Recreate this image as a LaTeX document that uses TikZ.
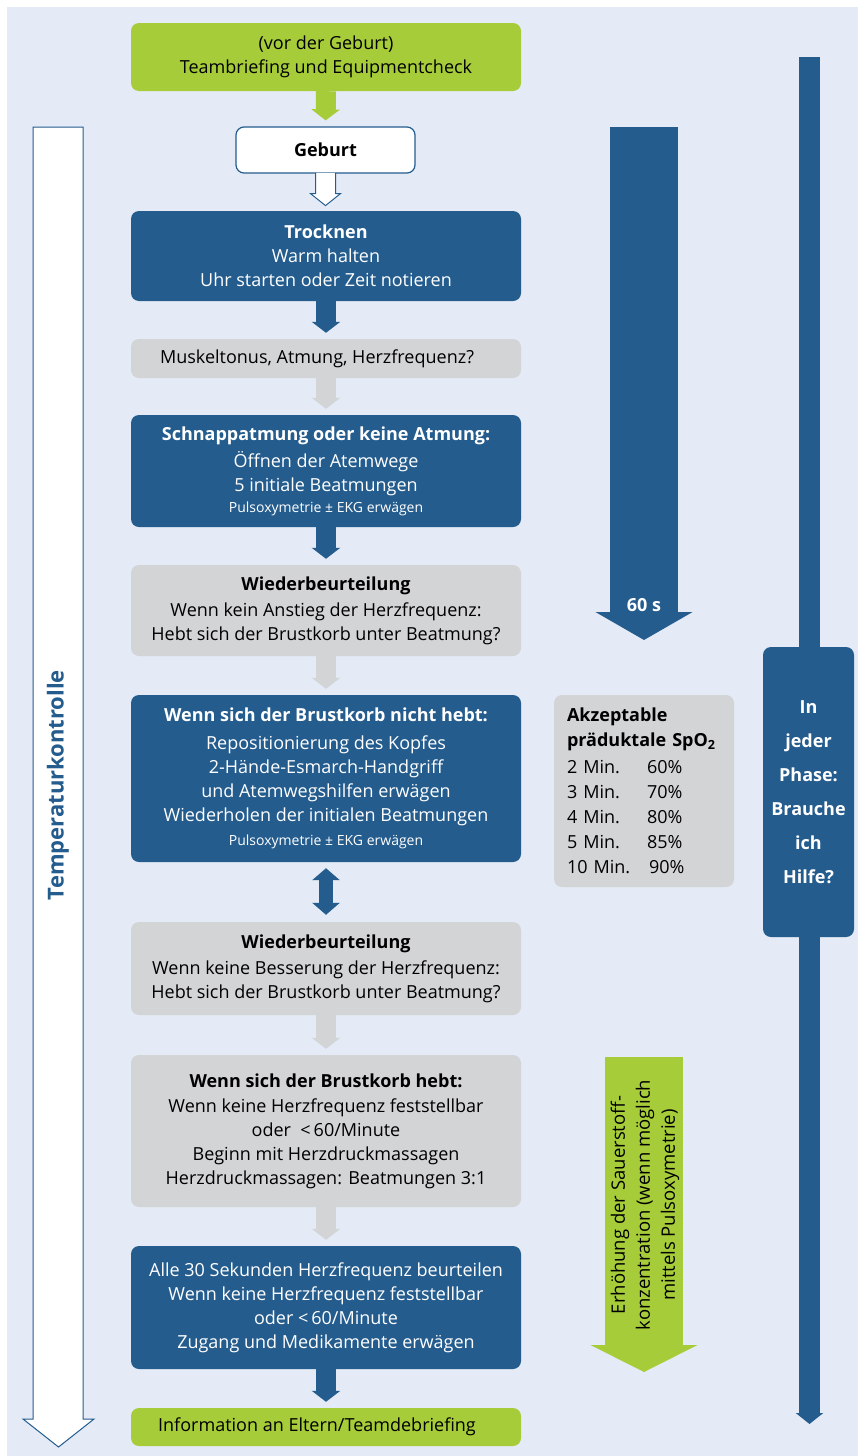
\documentclass[tikz,border=0pt]{standalone}
\usepackage{fontspec}
\setmainfont{Open Sans}
\usetikzlibrary{arrows.meta,calc}
\definecolor{dblue}{RGB}{36,92,142}
\definecolor{lgreen}{RGB}{166,204,58}
\definecolor{lgray}{RGB}{211,212,214}
\definecolor{bgblue}{RGB}{228,234,246}
\newcommand{\fsmain}{\fontsize{18}{24}\selectfont}
\newcommand{\fssmall}{\fontsize{14}{16}\selectfont}
\begin{document}
\begin{tikzpicture}[x=1pt,y=-1pt,
  box/.style={rounded corners=8pt, minimum width=390pt, align=center, inner sep=0pt, font=\fsmain},
  bluebox/.style={box, fill=dblue, text=white},
  graybox/.style={box, fill=lgray, text=black},
  greenbox/.style={box, fill=lgreen, text=black},
  conn/.style={line width=20pt, -{Triangle[width=28pt,length=11pt]}, shorten >=6pt},
]
\useasboundingbox (0,0) rectangle (858,1456);
\fill[white] (0,0) rectangle (858,1456);
\fill[bgblue] (7,7) rectangle (858,1456);

% left temperature arrow
\filldraw[fill=white, draw=dblue, line width=1pt] (33,127) -- (83,127) -- (83,1419) -- (94,1419) -- (58.5,1447) -- (23,1419) -- (33,1419) -- cycle;
\node[rotate=90, text=dblue, font=\fontsize{22}{24}\selectfont\bfseries] (temp) at (58,785) {Temperaturkontrolle};

% 60 s arrow
\draw[dblue, line width=68pt, -{Triangle[width=96pt,length=28pt]}] (644,127) -- (644,640);
\node[text=white, font=\fontsize{18}{18}\selectfont\bfseries] (sixty) at (644,605) {60 s};

% right bar with help box
\draw[dblue, line width=21pt, -{Triangle[width=27pt,length=11pt]}] (809.5,57) -- (809.5,1424);
\node[fill=dblue, rounded corners=8pt, minimum width=91pt, minimum height=290pt, inner sep=0pt, align=center, text=white, font=\fontsize{18}{34}\selectfont\bfseries] (hilfe) at (808.5,792) {In\\jeder\\Phase:\\Brauche\\ich\\Hilfe?};

% green oxygen arrow
\draw[lgreen, line width=78pt, -{Triangle[width=106pt,length=27pt]}] (644,1057) -- (644,1372);
\node[rotate=90, align=center, font=\fontsize{18.5}{25}\selectfont] (oxy) at (645,1205) {Erhöhung der Sauerstoff-\\konzentration (wenn möglich\\mittels Pulsoxymetrie)};

% SpO2 box
\node[fill=lgray, rounded corners=8pt, minimum width=180pt, minimum height=192pt, inner xsep=13pt, inner ysep=0pt, text width=154pt, align=left, font=\fontsize{18}{25}\selectfont] (spo) at (644,791) {\textbf{Akzeptable}\\\textbf{präduktale SpO\textsubscript{2}}\\[2pt]\makebox[80pt][l]{2 Min.}60\%\\\makebox[80pt][l]{3 Min.}70\%\\\makebox[80pt][l]{4 Min.}80\%\\\makebox[80pt][l]{5 Min.}85\%\\\makebox[82pt][l]{10 Min.}90\%};

% main flow
\node[greenbox, minimum height=68pt] (top) at (326,57) {(vor der Geburt)\\Teambriefing und Equipmentcheck};
\node[box, fill=white, draw=dblue, line width=1.2pt, minimum width=179pt, minimum height=46pt, font=\fsmain\bfseries] (geb) at (325.5,150) {Geburt};
\node[bluebox, minimum height=90pt] (trock) at (326,256) {\textbf{Trocknen}\\Warm halten\\Uhr starten oder Zeit notieren};
\node[graybox, minimum height=39pt] (musk) at (326,358.5) {\hspace*{-18pt}Muskeltonus, Atmung, Herzfrequenz?};
\node[bluebox, minimum height=112pt] (schnapp) at (326,471) {\textbf{Schnappatmung oder keine Atmung:}\\[3pt]Öffnen der Atemwege\\5 initiale Beatmungen\\[-3pt]{\fssmall Pulsoxymetrie ± EKG erwägen}};
\node[graybox, minimum height=91pt] (wb1) at (326,610.5) {\textbf{Wiederbeurteilung}\\[2pt]Wenn kein Anstieg der Herzfrequenz:\\Hebt sich der Brustkorb unter Beatmung?};
\node[bluebox, minimum height=167pt] (wnh) at (326,778.5) {\textbf{Wenn sich der Brustkorb nicht hebt:}\\[4pt]Repositionierung des Kopfes\\2-Hände-Esmarch-Handgriff\\und Atemwegshilfen erwägen\\Wiederholen der initialen Beatmungen\\{\fssmall Pulsoxymetrie ± EKG erwägen}};
\node[graybox, minimum height=93pt] (wb2) at (326,968.5) {\textbf{Wiederbeurteilung}\\[2pt]Wenn keine Besserung der Herzfrequenz:\\Hebt sich der Brustkorb unter Beatmung?};
\node[graybox, minimum height=152pt] (hebt) at (326,1131) {\textbf{Wenn sich der Brustkorb hebt:}\\[1pt]Wenn keine Herzfrequenz feststellbar\\oder\ \ <\,60/Minute\\Beginn mit Herzdruckmassagen\\Herzdruckmassagen: Beatmungen 3:1};
\node[bluebox, minimum height=123pt] (alle) at (326,1307.5) {Alle 30 Sekunden Herzfrequenz beurteilen\\Wenn keine Herzfrequenz feststellbar\\oder <\,60/Minute\\Zugang und Medikamente erwägen};
\node[greenbox, minimum height=38pt] (info) at (326,1427) {\hspace*{-18pt}Information an Eltern/Teamdebriefing};

% connectors
\draw[conn, lgreen] (top.south) -- (geb.north);
\draw[dblue, fill=white, line width=1pt] ($(geb.south)+(-10,-0.7)$) -- ++(0,20.7) -- ++(-5,0) -- ($(geb.south)+(0,32)$) -- ($(geb.south)+(15,20)$) -- ++(-5,0) -- ++(0,-20.7);
\draw[conn, dblue] (trock.south) -- (musk.north);
\draw[conn, lgray] (musk.south) -- (schnapp.north);
\draw[conn, dblue] (schnapp.south) -- (wb1.north);
\draw[conn, lgray] (wb1.south) -- (wnh.north);
\draw[dblue, line width=14pt, {Triangle[width=27pt,length=12pt]}-{Triangle[width=27pt,length=12pt]}, shorten <=6pt, shorten >=7pt] (wnh.south) -- (wb2.north);
\draw[conn, lgray] (wb2.south) -- (hebt.north);
\draw[conn, lgray] (hebt.south) -- (alle.north);
\draw[conn, dblue] (alle.south) -- (info.north);
\end{tikzpicture}
\end{document}
